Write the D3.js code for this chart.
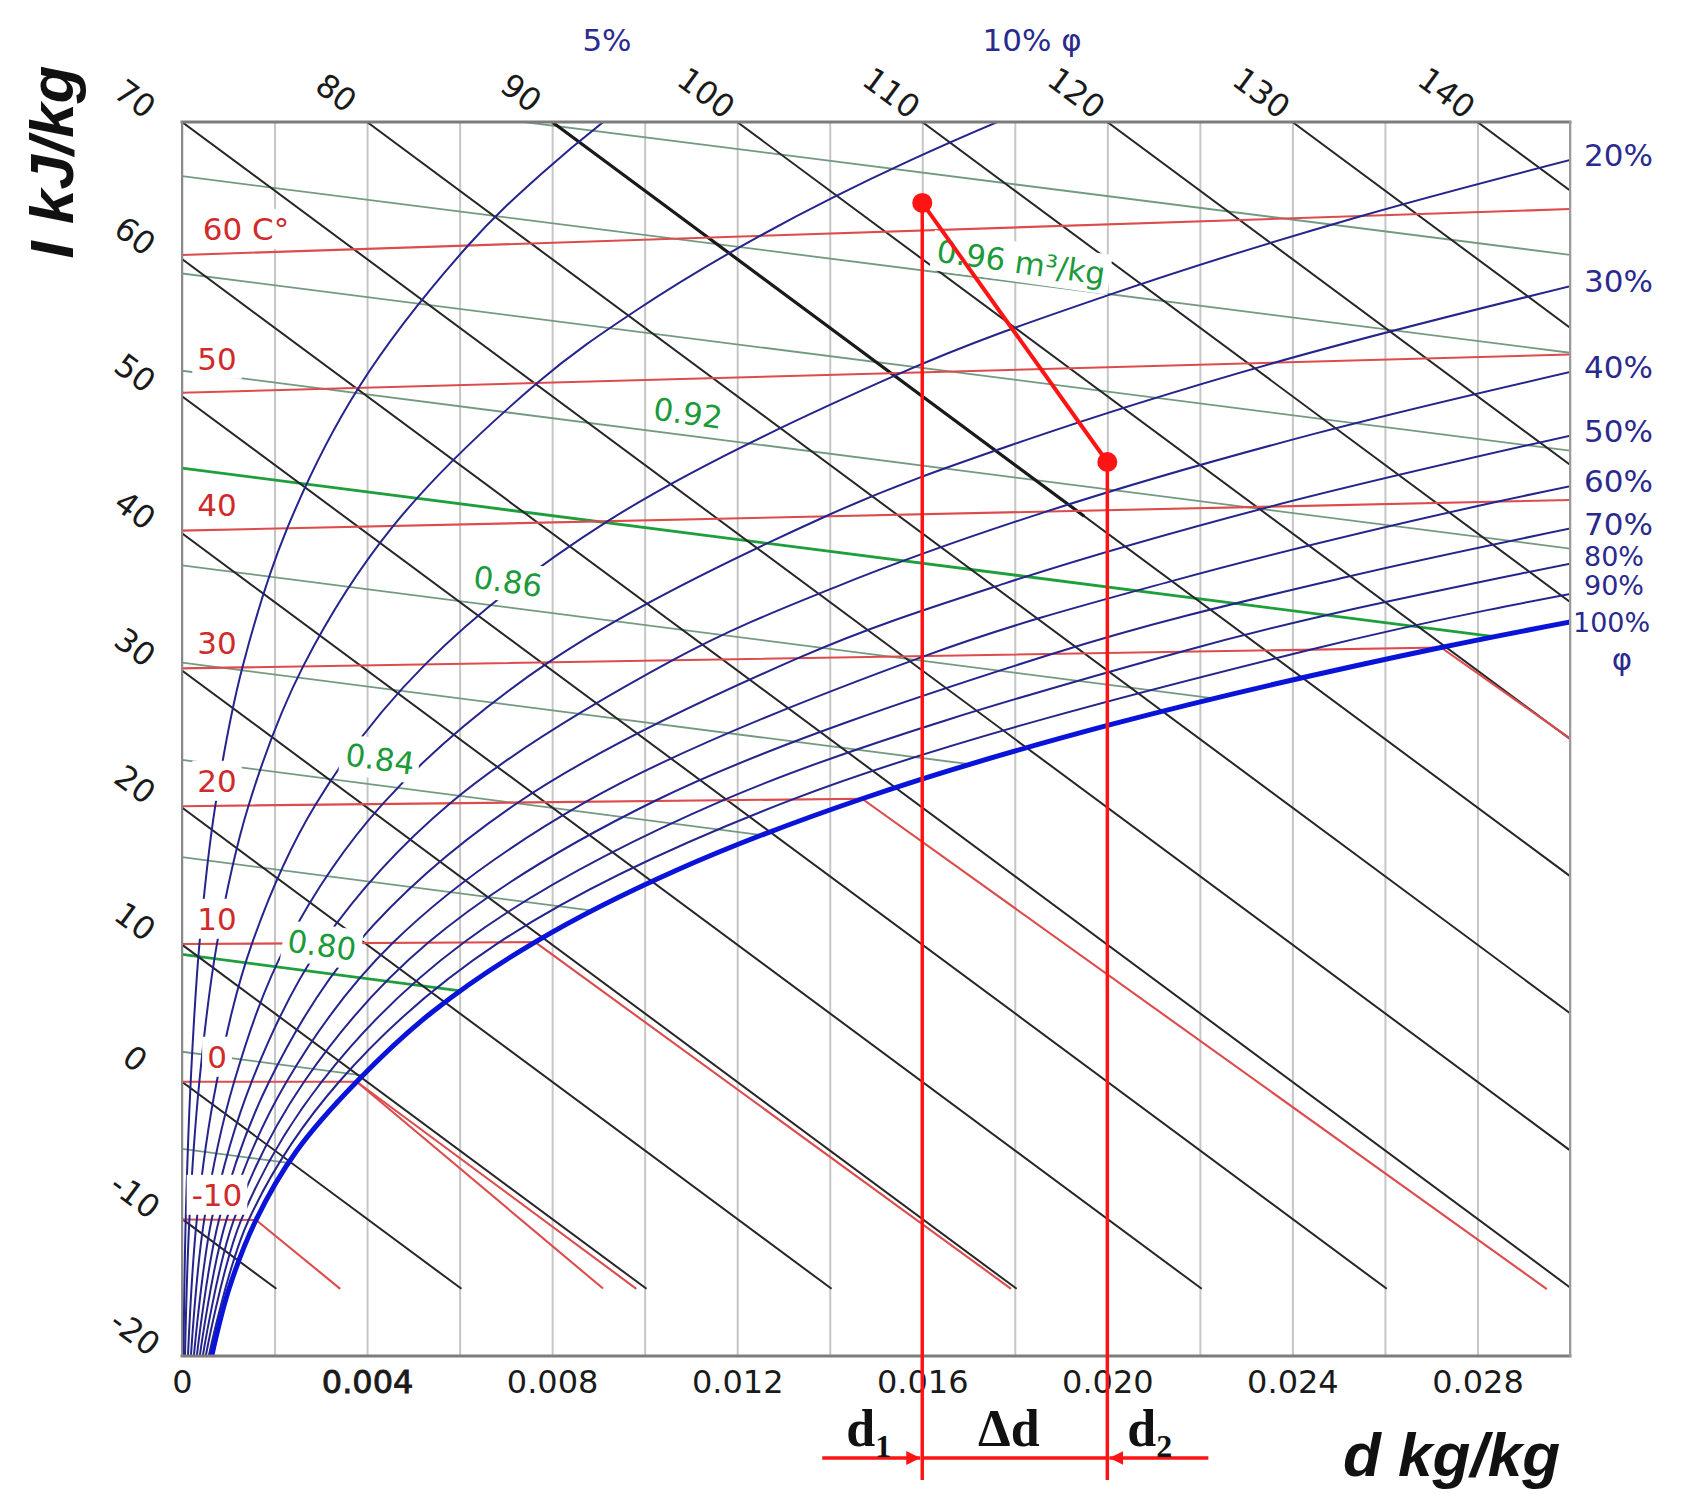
<!DOCTYPE html>
<html>
<head>
<meta charset="utf-8">
<style>
  body { margin: 0; background: #fff; }
</style>
</head>
<body>
<svg id="chart" width="1692" height="1507" font-family="DejaVu Sans"></svg>
<script src="https://cdn.jsdelivr.net/npm/d3@7"></script>
<script>
// ---------- values ----------
// moisture content d (kg/kg) on the bottom axis
const dTicks = [0, 0.004, 0.008, 0.012, 0.016, 0.020, 0.024, 0.028];
const dTickLabels = ["0", "0.004", "0.008", "0.012", "0.016", "0.020", "0.024", "0.028"];

// enthalpy I (kJ/kg): labels on the left edge and on the top edge
const leftILabels = [70, 60, 50, 40, 30, 20, 10, 0, -10, -20];
const topILabels = [80, 90, 100, 110, 120, 130, 140];
const enthalpyLines = [-10, 0, 10, 20, 30, 40, 50, 60, 70, 80, 90, 100, 110, 120, 130, 140];

// isotherms, as [d, I] vertices (unsaturated part, then fog part)
const isoT = [-10, 0, 10, 20, 30, 40, 50, 60];
const isoLines = [
  [[0, -10.05], [0.0016, -6.08], [0.00342, -6.55]],
  [[0, 0], [0.003775, 9.44], [0.00982, 9.45]],
  [[0, 10.05], [0.007632, 29.27], [0.01792, 29.70]],
  [[0, 20.1], [0.014699, 57.39], [0.0295, 58.63]],
  [[0, 30.15], [0.027211, 99.70], [0.030, 100.05]],
  [[0, 40.2], [0.030, 117.43]],
  [[0, 50.25], [0.030, 128.04]],
  [[0, 60.3], [0.030, 138.65]]
];
const fogIce0 = [[0.003775, 9.44], [0.0091, 7.67]];

// relative humidity curves, [d, I] nodes
const phiNames = ["5%", "10%", "20%", "30%", "40%", "50%", "60%", "70%", "80%", "90%", "100%"];
const phi5 = [[0.0000317, -20.02], [0.00008, -9.85], [0.000188, 0.47], [0.000377, 11.00], [0.000719, 21.92], [0.001306, 33.49], [0.002275, 46.06], [0.003814, 60.14], [0.006183, 76.45], [0.007783, 85.72], [0.009727, 95.93], [0.012075, 107.25], [0.014902, 119.87]];
const phi10 = [[0.0000634, -19.94], [0.00016, -9.65], [0.000375, 0.94], [0.000755, 11.95], [0.001439, 23.75], [0.002618, 36.84], [0.004567, 51.96], [0.007676, 70.15], [0.009829, 80.86], [0.012491, 92.92], [0.015763, 106.64], [0.019763, 122.33], [0.024627, 140.38]];
const phi20 = [[0.000127, -19.78], [0.00032, -9.26], [0.000751, 1.88], [0.001512, 13.86], [0.002885, 27.42], [0.005258, 43.59], [0.009201, 63.89], [0.015544, 90.56], [0.019974, 107.25], [0.025493, 126.88], [0.032345, 150.10]];
const phi30 = [[0.00019, -19.63], [0.00048, -8.86], [0.001127, 2.82], [0.00227, 15.77], [0.004338, 31.11], [0.007921, 50.39], [0.013904, 75.99], [0.018187, 92.21], [0.023611, 111.47], [0.03045, 134.52]];
const phi40 = [[0.000254, -19.47], [0.00064, -8.46], [0.001504, 3.76], [0.003031, 17.68], [0.005797, 34.81], [0.010606, 57.26], [0.014136, 71.44], [0.018678, 88.28], [0.024488, 108.49], [0.031885, 132.93]];
const phi50 = [[0.000317, -19.31], [0.0008, -8.06], [0.001882, 4.71], [0.003793, 19.60], [0.007264, 38.53], [0.013314, 64.18], [0.017771, 80.76], [0.023524, 100.76], [0.030914, 125.10]];
const phi60 = [[0.00038, -19.16], [0.00096, -7.67], [0.00226, 5.65], [0.004557, 21.53], [0.008737, 42.27], [0.016046, 71.16], [0.021448, 90.19], [0.028444, 113.43], [0.037469, 142.03]];
const phi70 = [[0.000444, -19.01], [0.00112, -7.27], [0.002639, 6.60], [0.005323, 23.46], [0.010217, 46.02], [0.018801, 78.20], [0.025167, 99.73], [0.033439, 126.29]];
const phi80 = [[0.000507, -18.85], [0.00128, -6.87], [0.003017, 7.54], [0.006091, 25.39], [0.011704, 49.80], [0.02158, 85.30], [0.028929, 109.38], [0.038512, 139.34]];
const phi90 = [[0.000571, -18.69], [0.00144, -6.48], [0.003396, 8.49], [0.00686, 27.33], [0.013198, 53.59], [0.024383, 92.47], [0.032735, 119.14], [0.043665, 152.61]];
const phi100 = [[0.000634, -18.54], [0.001016, -12.56], [0.0016, -6.08], [0.002476, 1.14], [0.003775, 9.44], [0.005403, 18.58], [0.007632, 29.27], [0.010651, 42.00], [0.014699, 57.39], [0.020087, 76.28], [0.027211, 99.70], [0.036587, 129.02]];
const phiCurves = [phi5, phi10, phi20, phi30, phi40, phi50, phi60, phi70, phi80, phi90, phi100];

// specific volume lines (m3/kg), start and end as [d, I]
const volValues = [0.76, 0.78, 0.80, 0.82, 0.84, 0.86, 0.88, 0.90, 0.92, 0.94, 0.96, 0.98];
const volStart = [[0, -4.90], [0, 2.19], [0, 9.29], [0, 16.38], [0, 23.48], [0, 30.57], [0, 37.67], [0, 44.76], [0, 51.86], [0, 58.95], [0, 66.05], [0.0074, 88.5]];
const volEnd = [[0.0023, -0.17], [0.0039, 10.22], [0.006018, 21.68], [0.00883, 34.58], [0.01253, 49.32], [0.01702, 65.71], [0.0223, 83.71], [0.02836, 103.36], [0.030, 113.89], [0.030, 121.03], [0.030, 128.17], [0.030, 135.31]];
const volBold = [0.80, 0.90];
const volLabelText = ["0.80", "0.84", "0.86", "0.92", "0.96 m³/kg"];
const volLabelAt = [[0.003026, 17.53], [0.00428, 34.24], [0.007046, 54.1], [0.010937, 76.1], [0.018134, 105.1]];

// the two marked states
const state1 = [0.016, 104.1];
const state2 = [0.020, 95.2];

// ---------- scales ----------
const svg = d3.select("#chart");
const x = d3.scaleLinear().domain([0, 0.030]).range([182, 1570]);
const y = d3.scaleLinear().domain([-20, 70]).range([1356, 122]);
const R = 2500;        // obliqueness of the I axis (kJ per kg of vapour)
const I_CUT = -15.1;   // the source chart stops its lines here
const [x0, x1] = x.range();
const [yb, yt] = y.range();

const px = p => x(p[0]);
const py = p => y(p[1] - R * p[0]);
const straight = d3.line().x(px).y(py);
const smooth = d3.line().x(px).y(py).curve(d3.curveCatmullRom);

svg.append("clipPath").attr("id", "plot")
  .append("rect").attr("x", x0).attr("y", yt).attr("width", x1 - x0).attr("height", yb - yt);

// vertical grid every 0.002
const grid = svg.append("g").attr("transform", `translate(0,${yb})`)
  .call(d3.axisBottom(x).ticks(15).tickSize(-(yb - yt)).tickFormat(""));
grid.select(".domain").remove();
grid.selectAll("line").attr("stroke", "#c6c6c6").attr("stroke-width", 2);

const plot = svg.append("g").attr("clip-path", "url(#plot)");

// specific volume (green)
plot.append("g").selectAll("path").data(volValues).join("path")
  .attr("d", (v, i) => straight([volStart[i], volEnd[i]]))
  .attr("fill", "none")
  .attr("stroke", v => volBold.includes(v) ? "#1f9e3c" : "#739a80")
  .attr("stroke-width", v => volBold.includes(v) ? 2.8 : 1.8);

// enthalpy (black)
const blackG = plot.append("g").attr("fill", "none").attr("stroke", "#262626");
blackG.selectAll("path").data(enthalpyLines).join("path")
  .attr("d", I => straight([
    [Math.max(0, (I - y.domain()[1]) / R), I],
    [Math.min(x.domain()[1], (I - I_CUT) / R), I]
  ]))
  .attr("stroke-width", 2);
// the upper part of the 90 kJ/kg line is drawn heavier in the source
blackG.append("path").attr("d", straight([[(90 - y.domain()[1]) / R, 90], [0.0195, 90]]))
  .attr("stroke", "#1a1a1a").attr("stroke-width", 3.2);

// isotherms (red)
const redG = plot.append("g").attr("fill", "none").attr("stroke", "#dd4c4c").attr("stroke-width", 2.1);
redG.selectAll("path").data(isoLines).join("path").attr("d", straight);
redG.append("path").attr("d", straight(fogIce0));

// relative humidity (blue)
const phiPaths = plot.append("g").selectAll("path").data(phiCurves).join("path")
  .attr("d", smooth)
  .attr("fill", "none")
  .attr("stroke", (c, i) => i === phiCurves.length - 1 ? "#0a14d8" : "#24248c")
  .attr("stroke-width", (c, i) => i === phiCurves.length - 1 ? 5 : 2);

// frame
const frame = svg.append("g").attr("stroke-linecap", "square");
frame.append("line").attr("x1", x0).attr("x2", x1).attr("y1", yt).attr("y2", yt).attr("stroke", "#7c7c7c").attr("stroke-width", 3);
frame.append("line").attr("x1", x0).attr("x2", x1).attr("y1", yb).attr("y2", yb).attr("stroke", "#7c7c7c").attr("stroke-width", 3);
frame.append("line").attr("x1", x0).attr("x2", x0).attr("y1", yt).attr("y2", yb).attr("stroke", "#8a8a8a").attr("stroke-width", 2);
frame.append("line").attr("x1", x1).attr("x2", x1).attr("y1", yt).attr("y2", yb).attr("stroke", "#9a9a9a").attr("stroke-width", 2);

// ---------- labels ----------
function label(g, cx, cy, angle, str, o) {
  const grp = g.append("g").attr("transform", `translate(${cx},${cy}) rotate(${angle})`);
  const t = grp.append("text")
    .attr("text-anchor", o.anchor || "middle")
    .attr("dominant-baseline", "central")
    .attr("font-size", o.size)
    .attr("fill", o.color)
    .text(str);
  if (o.bg) {
    const b = t.node().getBBox();
    grp.insert("rect", "text")
      .attr("x", b.x - 5).attr("y", b.y - 2)
      .attr("width", b.width + 10).attr("height", b.height + 4)
      .attr("fill", "#fff");
  }
  return grp;
}

const labels = svg.append("g");

// isotherm labels
isoT.forEach((t, i) => {
  const a = isoLines[i][0], b = isoLines[i][1];
  const lx = x0 + 35;
  const ly = py(a) + (py(b) - py(a)) * (lx - px(a)) / (px(b) - px(a));
  const str = t === 60 ? "60 C°" : String(t);
  label(labels, lx + (t === 60 ? 29 : 0), ly - (t === 50 ? 33 : 25), 0, str, { size: 31, color: "#d02a2a", bg: true });
});

// volume labels
volLabelText.forEach((s, i) => {
  label(labels, px(volLabelAt[i]), py(volLabelAt[i]), 8, s, { size: 31, color: "#1c9a3a", bg: true });
});

// enthalpy labels on the left and top
leftILabels.forEach(I => {
  label(labels, x0 - 47, y(I) - 23, 36.5, String(I), { size: 32, color: "#1a1a1a" });
});
topILabels.forEach(I => {
  label(labels, x((I - y.domain()[1]) / R) - 31, yt - 29, 36.5, String(I), { size: 32, color: "#1a1a1a" });
});

// where each humidity curve leaves the plot
function exitPoint(node, atTop) {
  const L = node.getTotalLength();
  for (let s = 0; s <= L; s += 1) {
    const p = node.getPointAtLength(s);
    if (atTop ? p.y <= yt : p.x >= x1) return p;
  }
  return node.getPointAtLength(L);
}
const navy = "#2a2a8e";
// the crowded labels at the lower right sit a little apart from their curve ends
const rightShift = { "80%": -7, "90%": -8, "100%": 0 };
phiPaths.each(function (c, i) {
  const name = phiNames[i];
  if (i === 0) {
    const p = exitPoint(this, true);
    label(labels, p.x + 3, 40, 0, name, { size: 31, color: navy });
  } else if (i === 1) {
    const p = exitPoint(this, true);
    label(labels, p.x - 15, 40, 0, name + " φ", { size: 31, color: navy, anchor: "start" });
  } else {
    const p = exitPoint(this, false);
    const isLast = i === phiNames.length - 1;
    const size = i >= 8 ? 27 : 31;
    const dy = name in rightShift ? rightShift[name] : -5;
    label(labels, isLast ? x1 + 3 : x1 + 14, p.y + dy, 0, name, { size: size, color: navy, anchor: "start" });
    if (isLast) label(labels, x1 + 52, p.y + 37, 0, "φ", { size: 31, color: navy });
  }
});

// bottom axis labels
const ax = svg.append("g").attr("transform", `translate(0,${yb})`)
  .call(d3.axisBottom(x).tickValues(dTicks).tickFormat((d, i) => dTickLabels[i]).tickSize(0).tickPadding(14));
ax.select(".domain").remove();
ax.attr("font-family", "DejaVu Sans").attr("font-size", 32);
ax.selectAll("text").attr("fill", "#1a1a1a");
ax.selectAll("text").filter((d, i) => i === 1).attr("stroke", "#1a1a1a").attr("stroke-width", 0.9);

// axis titles
svg.append("text")
  .attr("x", 1560).attr("y", 1476).attr("text-anchor", "end")
  .attr("font-family", "Liberation Sans").attr("font-weight", "bold").attr("font-style", "italic")
  .attr("font-size", 62).attr("fill", "#111").text("d kg/kg");
svg.append("text")
  .attr("transform", "translate(73,162) rotate(-90)").attr("text-anchor", "middle")
  .attr("font-family", "Liberation Sans").attr("font-weight", "bold").attr("font-style", "italic")
  .attr("font-size", 62).attr("fill", "#111").text("I kJ/kg");

// ---------- the marked process ----------
const red = "#ff1414";
svg.append("defs").append("marker")
  .attr("id", "arrow").attr("viewBox", "0 0 10 10").attr("refX", 10).attr("refY", 5)
  .attr("markerWidth", 4).attr("markerHeight", 4).attr("orient", "auto")
  .append("path").attr("d", "M0,0L10,5L0,10z").attr("fill", red);

const ann = svg.append("g");
const yBottom = 1480, yArrow = 1458;
[state1, state2].forEach(s => {
  ann.append("line").attr("x1", px(s)).attr("x2", px(s)).attr("y1", py(s)).attr("y2", yBottom)
    .attr("stroke", red).attr("stroke-width", 3.5);
});
ann.append("path").attr("d", straight([state1, state2])).attr("stroke", red).attr("stroke-width", 4).attr("fill", "none");
ann.selectAll("circle").data([state1, state2]).join("circle")
  .attr("cx", px).attr("cy", py).attr("r", 10).attr("fill", red);

ann.append("line").attr("x1", px(state1) - 100).attr("x2", px(state1) - 2).attr("y1", yArrow).attr("y2", yArrow)
  .attr("stroke", red).attr("stroke-width", 3.5).attr("marker-end", "url(#arrow)");
ann.append("line").attr("x1", px(state1)).attr("x2", px(state2)).attr("y1", yArrow).attr("y2", yArrow)
  .attr("stroke", red).attr("stroke-width", 3.5);
ann.append("line").attr("x1", px(state2) + 101).attr("x2", px(state2) + 2).attr("y1", yArrow).attr("y2", yArrow)
  .attr("stroke", red).attr("stroke-width", 3.5).attr("marker-end", "url(#arrow)");

function dLabel(xPos, anchor, main, sub) {
  const t = ann.append("text")
    .attr("x", xPos).attr("y", 1446).attr("text-anchor", anchor)
    .attr("font-family", "Liberation Serif").attr("font-weight", "bold")
    .attr("font-size", 52).attr("fill", "#111");
  t.append("tspan").text(main);
  if (sub) t.append("tspan").attr("font-size", 32).attr("dy", 11).text(sub);
}
dLabel(px(state1) - 76, "start", "d", "1");
dLabel((px(state1) + px(state2)) / 2 - 6, "middle", "Δd");
dLabel(px(state2) + 20, "start", "d", "2");
</script>
</body>
</html>
